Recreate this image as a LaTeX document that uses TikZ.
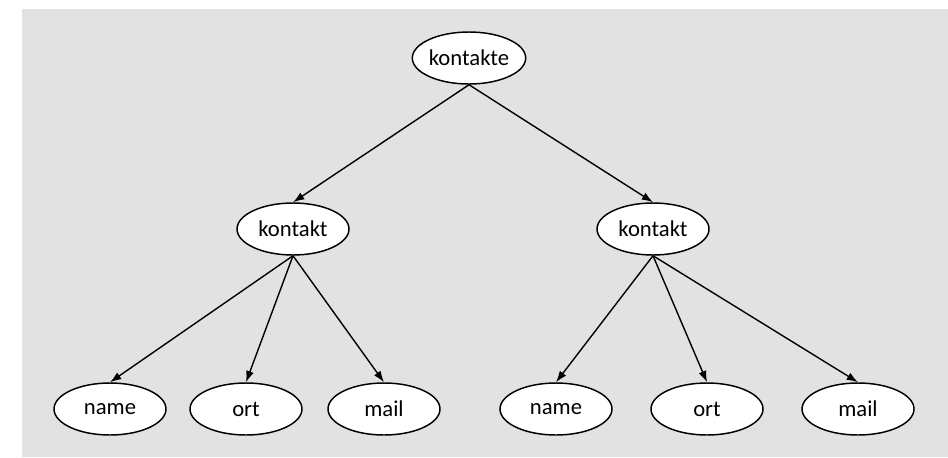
\documentclass[tikz,border=0pt]{standalone}
\usepackage{fontspec}
\setmainfont{Carlito}
\usetikzlibrary{shapes.geometric,arrows.meta}
\begin{document}
\begin{tikzpicture}[x=0.75pt,y=-0.75pt,
  elem/.style={ellipse,draw=black,fill=white,line width=1.1pt,
    minimum width=84pt,minimum height=39pt,inner sep=0pt,
    font=\fontsize{17}{20}\selectfont},
  link/.style={line width=1.05pt,-{Latex[length=8.5pt,width=6pt]}}]
  % canvas and grey panel
  \useasboundingbox (0,0) rectangle (948,457);
  \fill[white] (0,0) rectangle (948,457);
  \fill[gray!23] (22,9) rectangle (948,457);
  % nodes
  \node[elem] (root) at (469,58) {kontakte};
  \node[elem] (ka) at (293,229) {kontakt};
  \node[elem] (kb) at (653,229) {kontakt};
  \node[elem] (na) at (110,409) {name};
  \node[elem] (oa) at (246,409) {ort};
  \node[elem] (ma) at (384,409) {mail};
  \node[elem] (nb) at (556,409) {name};
  \node[elem] (ob) at (707,409) {ort};
  \node[elem] (mb) at (858,409) {mail};
  % edges
  \draw[link] (root.south) -- (ka.north);
  \draw[link] (root.south) -- (kb.north);
  \draw[link] (ka.south) -- (na.north);
  \draw[link] (ka.south) -- (oa.north);
  \draw[link] (ka.south) -- (ma.north);
  \draw[link] (kb.south) -- (nb.north);
  \draw[link] (kb.south) -- (ob.north);
  \draw[link] (kb.south) -- (mb.north);
\end{tikzpicture}
\end{document}
